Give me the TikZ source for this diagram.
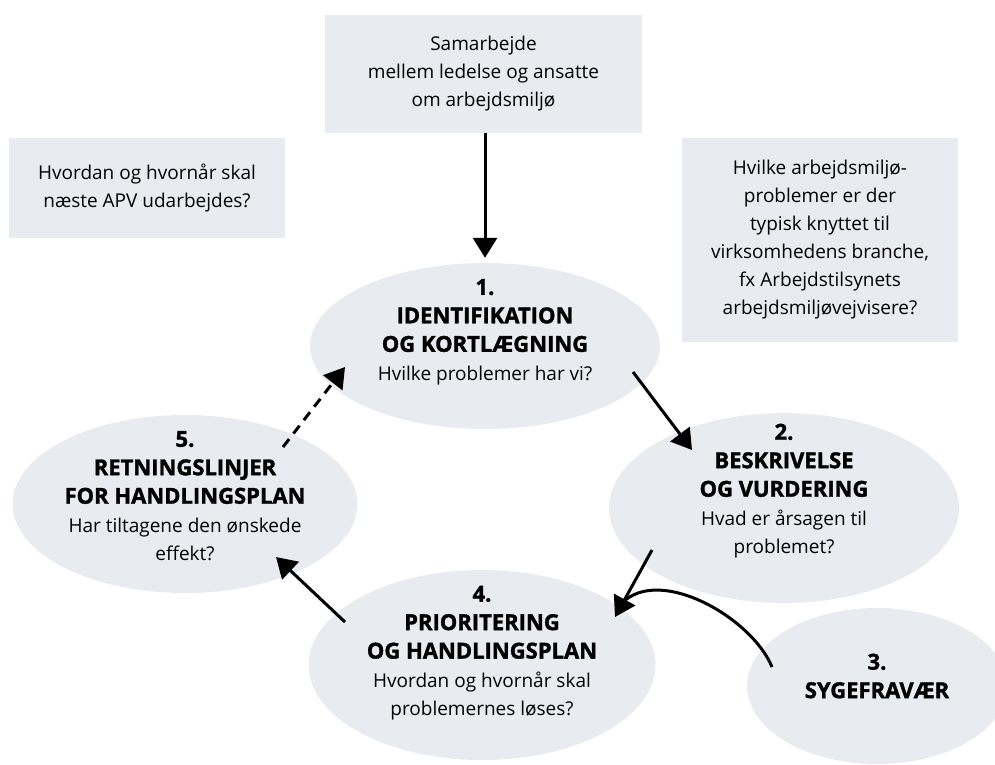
\documentclass[tikz,border=0pt]{standalone}
\usepackage{fontspec}
\setmainfont{Open Sans}
\newfontfamily\heavyfont{Open Sans}[BoldFeatures={FakeBold=1.5}]
\usetikzlibrary{arrows.meta,shapes.geometric}
\definecolor{panelgray}{RGB}{232,236,241}
\newcommand{\hd}[1]{{\heavyfont\fontsize{22}{27}\bfseries #1}}
\begin{document}
\begin{tikzpicture}[x=1pt,y=-1pt,>={Triangle[length=20pt,width=24pt]},
  box/.style={fill=panelgray,align=center,inner sep=0pt,font=\fontsize{19}{28}\selectfont},
  oval/.style={ellipse,fill=panelgray,inner sep=0pt},
  txt/.style={align=center,inner sep=0pt,font=\fontsize{19}{28.5}\selectfont},
  arr/.style={->,line width=3pt},
  darr/.style={arr,dash pattern=on 10pt off 7pt}]
	\useasboundingbox (0,0) rectangle (995,764);
	\clip (0,0) rectangle (995,764);
	\node[box,minimum width=317pt,minimum height=118pt] (samarb) at (483.5,74) {Samarbejde\\mellem ledelse og ansatte\\om arbejdsmiljø};
	\node[box,minimum width=276pt,minimum height=100pt] (naeste) at (147,188) {Hvordan og hvornår skal\\næste APV udarbejdes?};
	\node[box,minimum width=276pt,minimum height=204pt] (branche) at (820,240) {Hvilke arbejdsmiljø-\\problemer er der\\typisk knyttet til\\virksomhedens branche,\\fx Arbejdstilsynets\\arbejdsmiljøvejvisere?};
	\node[oval,minimum width=350pt,minimum height=166pt] (ident) at (485,346) {};
	\node[oval,minimum width=350pt,minimum height=190pt] (beskr) at (784,508) {};
	\node[oval,minimum width=260pt,minimum height=156pt] (sygef) at (877,686) {};
	\node[oval,minimum width=347pt,minimum height=190pt] (prior) at (482,665) {};
	\node[oval,minimum width=345pt,minimum height=178pt] (retn) at (185,504) {};
	\node[txt] (identtxt) at ([yshift=14pt]ident) {\hd{1.}\\\hd{IDENTIFIKATION}\\\hd{OG KORTLÆGNING}\\Hvilke problemer har vi?};
	\node[txt] (beskrtxt) at ([yshift=17pt]beskr) {\hd{2.}\\\hd{BESKRIVELSE}\\\hd{OG VURDERING}\\Hvad er årsagen til\\problemet?};
	\node[txt] (sygeftxt) at ([yshift=10pt]sygef) {\hd{3.}\\\hd{SYGEFRAVÆR}};
	\node[txt] (priortxt) at ([yshift=12pt]prior) {\hd{4.}\\\hd{PRIORITERING}\\\hd{OG HANDLINGSPLAN}\\Hvordan og hvornår skal\\problemernes løses?};
	\node[txt] (retntxt) at ([yshift=8pt]retn) {\hd{5.}\\\hd{RETNINGSLINJER}\\\hd{FOR HANDLINGSPLAN}\\Har tiltagene den ønskede\\effekt?};
	\draw[arr,shorten >=5pt] ([xshift=1.5pt]samarb.south) -- ([xshift=0pt]ident.north);
	\draw[arr] ([shift={(148,26)}]ident.center) -- ([shift={(-92,-58)}]beskr.center);
	\draw[arr] ([shift={(-132,42)}]beskr.center) -- ([shift={(133,-48)}]prior.center);
	\draw[arr] ([shift={(-137,-43)}]prior.center) -- ([shift={(91,53)}]retn.center);
	\draw[darr] ([shift={(98,-57)}]retn.center) -- ([shift={(-140,21)}]ident.center);
	\draw[line width=3pt] ([shift={(-105,-19)}]sygef.center) .. controls (752,618) and (660,565) .. ([shift={(140,-62)}]prior.center);
\end{tikzpicture}
\end{document}
